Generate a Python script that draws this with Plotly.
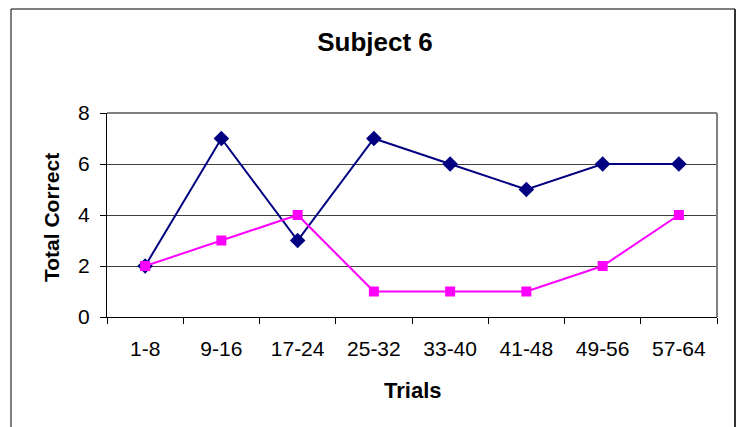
import plotly.graph_objects as go

# Trial blocks and number of correct responses per block
trials = ["1-8", "9-16", "17-24", "25-32", "33-40", "41-48", "49-56", "57-64"]
series_a = [2, 7, 3, 7, 6, 5, 6, 6]
series_b = [2, 3, 4, 1, 1, 1, 2, 4]
y_ticks = [0, 2, 4, 6, 8]

W, H = 744, 427
ML, MR, MT, MB = 107, 27, 113, 110
PW, PH = W - ML - MR, H - MT - MB


def px_x(x):
    return (x - ML) / PW


def px_y(y):
    return (H - MB - y) / PH


font = "Liberation Sans, Arial, sans-serif"

fig = go.Figure()
fig.add_trace(go.Scatter(
    x=trials, y=series_a, mode="lines+markers",
    line=dict(color="#000080", width=2),
    marker=dict(symbol="diamond", size=12, color="#000080"),
    showlegend=False,
))
fig.add_trace(go.Scatter(
    x=trials, y=series_b, mode="lines+markers",
    line=dict(color="#FF00FF", width=2),
    marker=dict(symbol="square", size=10, color="#FF00FF"),
    showlegend=False,
))

fig.update_layout(
    width=W, height=H,
    margin=dict(l=ML, r=MR, t=MT, b=MB),
    paper_bgcolor="white", plot_bgcolor="white",
    font=dict(family=font, color="black"),
    title=dict(text="<b>Subject 6</b>", x=375 / W, xanchor="center",
               y=1 - 42 / H, yanchor="middle", yref="container",
               font=dict(size=26, family=font, color="black")),
    xaxis=dict(
        type="category", range=[-0.5, 7.5], tickson="boundaries",
        ticks="outside", ticklen=6, tickcolor="black", tickwidth=1,
        showline=True, linecolor="black", linewidth=1,
        showgrid=False, zeroline=False,
        tickfont=dict(size=21, family=font, color="black"),
        ticklabelstandoff=13,
    ),
    yaxis=dict(
        range=[0, 8], tickvals=y_ticks,
        ticks="outside", ticklen=6, tickcolor="black", tickwidth=1,
        showline=True, linecolor="black", linewidth=1,
        showgrid=True, gridcolor="#404040", gridwidth=1, zeroline=False,
        tickfont=dict(size=21, family=font, color="black"),
        ticklabelstandoff=6,
    ),
    annotations=[
        dict(text="<b>Trials</b>", xref="paper", yref="paper",
             x=0.5, y=px_y(390), xanchor="center", yanchor="middle",
             showarrow=False, font=dict(size=22, family=font, color="black")),
        dict(text="<b>Total Correct</b>", xref="paper", yref="paper",
             x=px_x(51), y=px_y(218), xanchor="center", yanchor="middle",
             textangle=-90, showarrow=False,
             font=dict(size=21, family=font, color="black")),
    ],
    shapes=[
        # plot area frame (top and right edges)
        dict(type="line", xref="paper", yref="paper", x0=0, x1=1, y0=1, y1=1,
             line=dict(color="#808080", width=2), layer="above"),
        dict(type="line", xref="paper", yref="paper", x0=1, x1=1, y0=0, y1=1,
             line=dict(color="#808080", width=2), layer="above"),
        # chart border
        dict(type="line", xref="paper", yref="paper",
             x0=px_x(11), x1=px_x(735), y0=px_y(9), y1=px_y(9),
             line=dict(color="black", width=1)),
        dict(type="line", xref="paper", yref="paper",
             x0=px_x(11), x1=px_x(11), y0=px_y(9), y1=px_y(440),
             line=dict(color="black", width=1)),
        dict(type="line", xref="paper", yref="paper",
             x0=px_x(735), x1=px_x(735), y0=px_y(9), y1=px_y(440),
             line=dict(color="#333333", width=2)),
    ],
)

fig.write_html("out.html")
